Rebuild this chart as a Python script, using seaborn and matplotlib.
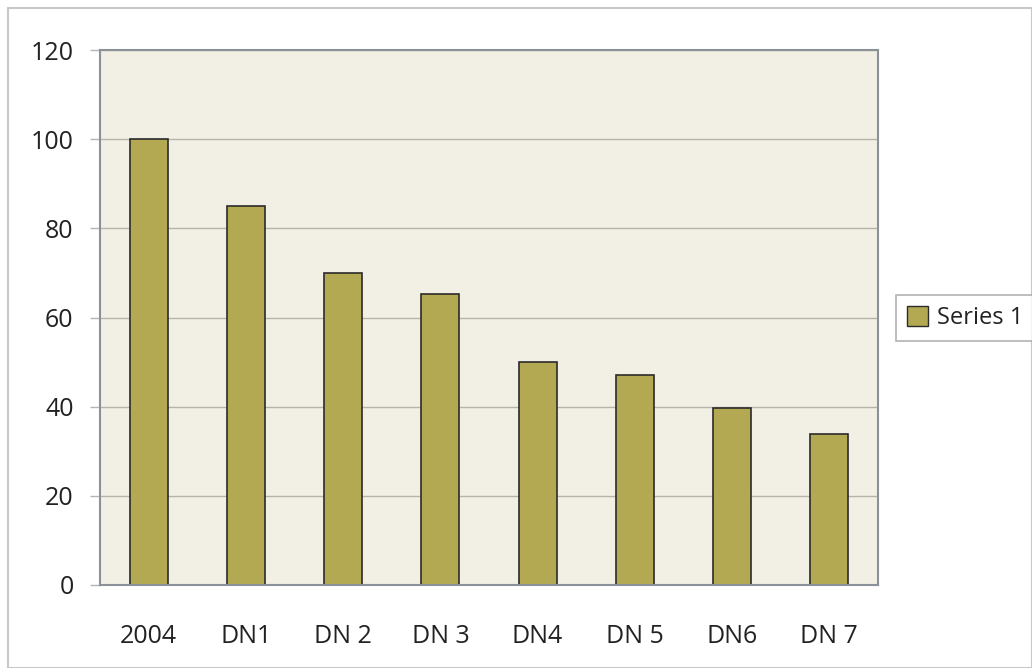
import pandas as pd
import seaborn as sns
import matplotlib.pyplot as plt
from matplotlib.patches import Patch, Rectangle

categories = ['2004', 'DN1', 'DN 2', 'DN 3', 'DN4', 'DN 5', 'DN6', 'DN 7']
values = [100, 85, 70, 65.2, 50.1, 47.2, 39.8, 33.9]
series_name = 'Series 1'

bar_color = '#B2A952'
plot_bg = '#F2EFE4'

sns.set_theme(style='white')
plt.rcParams['font.family'] = ['Open Sans', 'DejaVu Sans']

fig = plt.figure(figsize=(10.32, 6.68), dpi=100)
ax = fig.add_axes([100 / 1032, 1 - 585 / 668, 778 / 1032, 535 / 668])

df = pd.DataFrame({'cat': categories, 'val': values})
sns.barplot(data=df, x='cat', y='val', color=bar_color, width=0.39,
            edgecolor='#2b2b2b', linewidth=1.2, saturation=1, ax=ax)

ax.set_facecolor(plot_bg)
ax.set_ylim(0, 120)
ax.set_xlim(-0.5, len(categories) - 0.5)
ax.set_yticks(range(0, 121, 20))
ax.yaxis.grid(True, color='#b5b3aa', linewidth=1)
ax.set_axisbelow(True)
ax.set_xlabel('')
ax.set_ylabel('')

for side in ['left', 'bottom', 'top', 'right']:
    ax.spines[side].set_color('#8a9199')
    ax.spines[side].set_linewidth(1.5)

# category boundary ticks on x axis
ax.set_xticks([i - 0.5 for i in range(len(categories) + 1)], minor=True)
ax.tick_params(axis='x', which='minor', length=8, color='#b5b5b5', width=1)
ax.tick_params(axis='x', which='major', length=0, pad=28, labelsize=18,
               labelcolor='#222222')
ax.tick_params(axis='y', length=7, color='#b5b5b5', width=1, pad=12,
               labelsize=18, labelcolor='#222222', left=True)

# outer chart border
fig.patches.append(Rectangle((8 / 1032, 0.5 / 668), 1 - 8 / 1032 - 0.5 / 1032,
                             1 - 8 / 668 - 0.5 / 668, transform=fig.transFigure,
                             fill=False, edgecolor='#c8c8c8', linewidth=1.5))

handle = Patch(facecolor=bar_color, edgecolor='#2b2b2b', linewidth=1)
leg = fig.legend([handle], [series_name], loc='center left',
                 bbox_to_anchor=(896 / 1032, 1 - 318 / 668), fontsize=17,
                 frameon=True, fancybox=False, handlelength=0.9,
                 handleheight=0.9, handletextpad=0.4, borderpad=0.45,
                 borderaxespad=0)
leg.get_frame().set_edgecolor('#a0a0a0')
leg.get_frame().set_linewidth(1.2)
for t in leg.get_texts():
    t.set_color('#222222')

fig.savefig('out.png', dpi=100)
plt.close(fig)
